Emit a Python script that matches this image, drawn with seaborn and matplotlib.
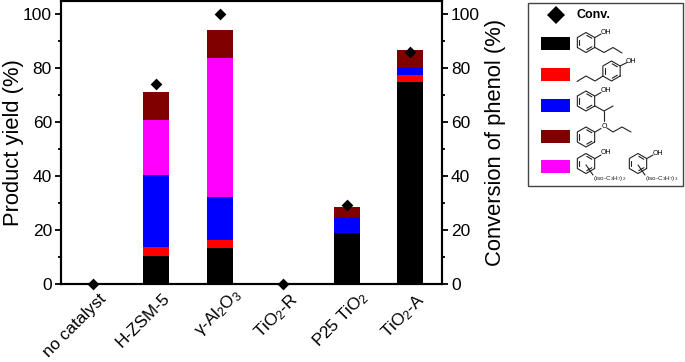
import numpy as np
import pandas as pd
import matplotlib
matplotlib.use('Agg')
import matplotlib.pyplot as plt
import matplotlib.transforms as mtrans
import seaborn as sns
from matplotlib.patches import Rectangle

catalysts = ['no catalyst', 'H-ZSM-5', 'γ-Al$_2$O$_3$', 'TiO$_2$-R', 'P25 TiO$_2$', 'TiO$_2$-A']
# layer thickness of each product, stacked in this order
black_vals = [0, 10.4, 13.5, 0, 18.8, 75.1]
red_vals = [0, 3.4, 2.8, 0, 0, 2.5]
blue_vals = [0, 26.6, 15.9, 0, 5.8, 2.7]
magenta_vals = [0, 20.5, 51.5, 0, 0, 0]
maroon_vals = [0, 10.3, 10.4, 0, 4.1, 6.5]
conversion = [0, 74.1, 100, 0, 29.2, 86]

layers = [black_vals, red_vals, blue_vals, magenta_vals, maroon_vals]
layer_colors = ['#000000', '#ff0000', '#0000ff', '#ff00ff', '#800000']
legend_colors = ['#000000', '#ff0000', '#0000ff', '#800000', '#ff00ff']

sns.set_theme(style='ticks')
plt.rcParams['font.family'] = ['Liberation Sans', 'DejaVu Sans']
plt.rcParams['mathtext.fontset'] = 'custom'
plt.rcParams['mathtext.rm'] = 'Liberation Sans'
plt.rcParams['mathtext.default'] = 'rm'

fig = plt.figure(figsize=(6.85, 3.62), dpi=100)
ax = fig.add_axes([61 / 685, (362 - 284) / 362, 381 / 685, 283 / 362])

df = pd.DataFrame({'catalyst': catalysts, 'conv': conversion})
tops = np.cumsum(layers, axis=0)
# tallest first so the lower layers paint over it
for top, col in zip(tops[::-1], layer_colors[::-1]):
    sns.barplot(x=catalysts, y=top, order=catalysts, color=col, saturation=1,
                width=0.405, linewidth=0, ax=ax)

ax.set_xlim(-0.5, 5.5)
ax.set_ylim(0, 105)
ax.set_yticks(range(0, 101, 20))
ax.set_yticks(range(10, 100, 20), minor=True)
ax.set_xlabel('')
ax.set_ylabel('Product yield (%)', fontsize=15.8, color='black')
ax.yaxis.set_label_coords(-0.098, 0.5)
ax.tick_params(axis='y', which='major', length=4.5, width=1.3, labelsize=12.5, pad=2, color='black', labelcolor='black')
ax.tick_params(axis='y', which='minor', length=2, width=1.3, color='black')
ax.tick_params(axis='x', length=0, pad=5, labelcolor='black')
ax.set_xticks(range(6))
ax.set_xticklabels(catalysts, rotation=45, ha='right', rotation_mode='anchor', fontsize=12.3)
# nudge the rotated labels, in pixels
nudges = [(6, 0), (6, 0), (12, 6), (6, 0), (12, 3), (6, 0)]
for lab, (dx, dy) in zip(ax.get_xticklabels(), nudges):
    shift = mtrans.ScaledTranslation(dx / 100, dy / 100, fig.dpi_scale_trans)
    lab.set_transform(lab.get_transform() + shift)
for s in ax.spines.values():
    s.set_linewidth(1.5)
    s.set_color('black')

ax2 = ax.twinx()
sns.scatterplot(data=df, x='catalyst', y='conv', marker='D', s=36, color='black',
                linewidth=0, clip_on=False, zorder=5, ax=ax2)
ax2.set_ylim(0, 105)
ax2.set_yticks(range(0, 101, 20))
ax2.set_yticks(range(10, 100, 20), minor=True)
ax2.set_xlabel('')
ax2.set_ylabel('Conversion of phenol (%)', fontsize=15.8, color='black')
ax2.yaxis.set_label_coords(1.112, 0.5)
ax2.tick_params(axis='y', which='major', length=4.5, width=1.3, labelsize=12.5, pad=2, color='black', labelcolor='black')
ax2.tick_params(axis='y', which='minor', length=2, width=1.3, color='black')
for s in ax2.spines.values():
    s.set_linewidth(1.5)
    s.set_color('black')

# legend panel drawn in pixel coordinates
lg = fig.add_axes([0, 0, 1, 1])
lg.set_xlim(0, 685)
lg.set_ylim(362, 0)
lg.axis('off')
lg.patch.set_alpha(0)
lg.add_patch(Rectangle((527.7, 2.5), 155.5, 183.5, fill=False, ec='#444444', lw=1))
lg.plot([555.7], [14.5], marker='D', ms=9, color='black', mew=0)
lg.text(577, 14.5, 'Conv.', fontsize=9, fontweight='bold', va='center', color='black')

for y0, col in zip([37, 68, 99, 130, 160], legend_colors):
    lg.add_patch(Rectangle((541, y0), 29.5, 12.7, fc=col, ec='none'))


def ring(cx, cy, r=10):
    ang = np.radians(np.arange(30, 391, 60))
    lg.plot(cx + r * np.cos(ang), cy + r * np.sin(ang), color='#222222', lw=0.8)
    # alternating inner bonds of the benzene ring
    for a in np.radians([60, 180, 300]):
        lg.plot([cx + 0.72 * r * np.cos(a - 0.42), cx + 0.72 * r * np.cos(a + 0.42)],
                [cy + 0.72 * r * np.sin(a - 0.42), cy + 0.72 * r * np.sin(a + 0.42)],
                color='#222222', lw=0.8)


def bonds(xs, ys):
    lg.plot(xs, ys, color='#222222', lw=0.8)


def oh(x, y):
    lg.text(x, y, 'OH', fontsize=5, ha='center', va='center', color='black')


# 2-propylphenol
ring(586, 42.5)
bonds([595, 601], [37.5, 34])
oh(606, 32)
bonds([595, 604, 613, 622], [47.5, 52.5, 47.5, 53])
# 4-propylphenol
ring(611.5, 71)
bonds([620, 627], [66, 62.5])
oh(631, 61.5)
bonds([603, 595, 586, 577], [76, 81, 76, 81.5])
# 2-isopropylphenol
ring(586, 101)
bonds([595, 601], [96, 92.5])
oh(606, 90.5)
bonds([595, 604, 613], [106, 111, 106])
bonds([604, 604], [111, 121])
# propyl phenyl ether
ring(586, 137)
bonds([595, 601], [132, 128.5])
lg.text(604, 126.5, 'O', fontsize=5, ha='center', va='center', color='black')
bonds([607, 613, 622, 631], [128, 132, 127, 132])
# di- and tri-isopropylphenols
ring(586, 163.5)
bonds([595, 601], [158.5, 155])
oh(606, 153)
bonds([586, 593], [165, 175])
lg.text(593, 178.5, '(iso-C$_3$H$_7$)$_2$', fontsize=4.6, va='center', color='#222222')
ring(638, 163.5)
bonds([647, 653], [158.5, 155])
oh(658, 153.5)
bonds([638, 645], [165, 175])
lg.text(645, 178.5, '(iso-C$_3$H$_7$)$_3$', fontsize=4.6, va='center', color='#222222')

fig.savefig('out.png', dpi=100)
